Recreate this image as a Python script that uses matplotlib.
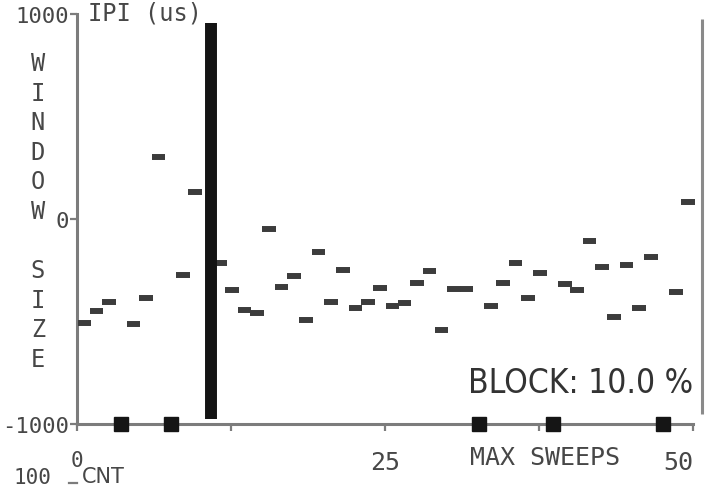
import numpy as np
import matplotlib
matplotlib.use("Agg")
import matplotlib.pyplot as plt
from matplotlib import font_manager
from matplotlib.lines import Line2D

# ---------------- data ----------------
n_sweeps = 50
# inter-pulse interval within window (us) per sweep; nan = blocked / hidden
ipi_window = [-507, -449, -405, np.nan, -512, -385, 302, np.nan, -273, 132,
              np.nan, -215, -346, -444, -459, -49, -332, -278, -493, -161,
              -405, -249, -434, -405, -337, -424, -410, -312, -254, -541,
              -341, -341, np.nan, -424, -312, -215, -385, -263, np.nan, -317,
              -346, -107, -234, -478, -224, -434, -185, np.nan, -356, 83]
blocked_sweeps = [3, 7, 32, 38, 47]
cursor_sweep = 10.9
y_ticks = [-1000, 0, 1000]
y_tick_labels = ["-1000", "0", "1000"]
x_ticks = [0, 12.5, 25, 37.5, 50]
x_tick_labels = ["0", "", "25", "", "50"]
block_text = "BLOCK: 10.0 %"

# ---------------- figure ----------------
W, H = 709, 489
fig = plt.figure(figsize=(W / 100, H / 100), dpi=100)
fig.patch.set_facecolor("white")

def fx(x):
    return x / W

def fy(y):
    return 1 - y / H

ax = fig.add_axes([fx(77), fy(425), (693 - 77) / W, (425 - 15) / H])
ax.set_xlim(0, 50)
ax.set_ylim(-1000, 1000)
ax.set_facecolor("none")

mono = "DejaVu Sans Mono"
axis_col = "#7c7c7c"
text_col = "#474747"

for s in ["top", "right"]:
    ax.spines[s].set_visible(False)
for s in ["left", "bottom"]:
    ax.spines[s].set_color(axis_col)
    ax.spines[s].set_linewidth(2.2)

ax.set_yticks(y_ticks)
ax.set_yticklabels(y_tick_labels, fontfamily=mono, fontsize=16, color=text_col)
ax.tick_params(axis="y", direction="out", length=5, width=1.6, color=axis_col, pad=1)
ax.set_xticks(x_ticks)
ax.set_xticklabels(x_tick_labels, fontfamily=mono, fontsize=18, color=text_col)
ax.tick_params(axis="x", direction="out", length=5, width=1.6, color=axis_col, pad=14)
ax.get_xticklabels()[-1].set_horizontalalignment("right")
ax.get_xticklabels()[0].set_fontsize(15)

# data dashes
xs = np.arange(n_sweeps) + 0.6
vals = np.array(ipi_window, dtype=float)
ok = ~np.isnan(vals)
ax.hlines(vals[ok], xs[ok] - 0.55, xs[ok] + 0.55, colors="#3c3c3c",
          linewidth=4.3, clip_on=False, zorder=3)

# cursor bar
ax.vlines(cursor_sweep, -975, 955, colors="#141414", linewidth=8.6, zorder=4)
# right frame line
ax.vlines(50.7, -950, 975, colors="#8a8a8a", linewidth=2.2, clip_on=False)

# blocked sweep markers
bx = np.array(blocked_sweeps) + 0.6
ax.plot(bx, np.full(len(bx), -1000), linestyle="none", marker="s",
        markersize=9.5, color="#151515", clip_on=False, zorder=5)

# texts
ax.text(38.0, -1161, "MAX SWEEPS", fontfamily=mono, fontsize=18,
        color=text_col, ha="center", va="center")

names = {f.name for f in font_manager.fontManager.ttflist}
if "Liberation Sans Narrow" in names:
    ax.text(50, -844, block_text, fontfamily="Liberation Sans Narrow",
            fontsize=29, color="#333333", ha="right", va="baseline")
else:
    ax.text(50, -844, block_text, fontfamily="DejaVu Sans", fontstretch="condensed",
            fontsize=24, color="#333333", ha="right", va="baseline")

fig.text(fx(38), fy(212), "W\nI\nN\nD\nO\nW\n\nS\nI\nZ\nE", fontfamily=mono,
         fontsize=17, color=text_col, ha="center", va="center",
         multialignment="center", linespacing=1.29)
fig.text(fx(88), fy(1), "IPI (us)", fontfamily=mono, fontsize=17,
         color=text_col, ha="left", va="top")
fig.text(fx(82), fy(483), "CNT", fontfamily="DejaVu Sans", fontsize=15,
         color=text_col, ha="left", va="baseline")
fig.text(fx(14), fy(488), "100", fontfamily=mono, fontsize=15,
         color=text_col, ha="left", va="bottom")
fig.add_artist(Line2D([fx(69), fx(77)], [fy(484), fy(484)], color=axis_col,
                      linewidth=1.6))

fig.savefig("out.png", dpi=100)
